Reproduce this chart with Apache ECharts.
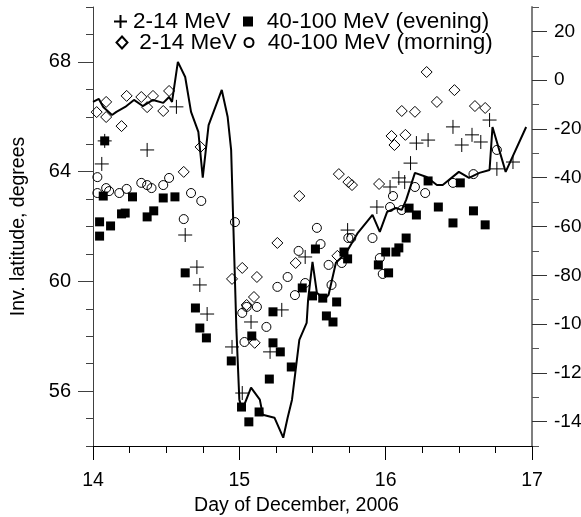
<!DOCTYPE html>
<html>
<head>
<meta charset="utf-8">
<script src="https://cdn.jsdelivr.net/npm/echarts@6/dist/echarts.min.js"></script>
<style>html,body{margin:0;padding:0;background:#fff}#c{width:581px;height:517px}</style>
</head>
<body>
<div id="c"></div>
<script>
// ---- data (day of December 2006, value) ----
var xTicks = [14, 15, 16, 17];
var latTickLabels = [56, 60, 64, 68];
var dstTickLabels = [-140, -120, -100, -80, -60, -40, -20, 0, 20];

// 2-14 MeV (evening) - crosses, invariant latitude
var cross214 = [[14.06,64.28],[14.08,65.12],[14.37,64.79],[14.57,66.36],[14.63,61.69],[14.71,60.52],
  [14.73,59.87],[14.78,58.81],[14.95,57.61],[15.02,55.93],[15.08,58.52],[15.21,57.43],[15.29,58.96],
  [15.45,60.89],[15.74,61.87],[15.94,62.71],[16.03,63.44],[16.09,63.77],[16.13,63.62],[16.17,64.31],
  [16.21,65.04],[16.29,65.15],[16.46,65.63],[16.52,64.97],[16.59,65.34],[16.65,65.08],[16.71,65.88],
  [16.76,64.10],[16.87,64.35]];

// 40-100 MeV (evening) - filled squares
var square40100 = [[14.045,62.17],[14.045,61.65],[14.07,63.11],[14.08,65.12],[14.12,62.02],[14.195,62.46],
  [14.22,62.49],[14.27,63.08],[14.37,62.35],[14.415,62.57],[14.48,63.04],[14.56,63.08],[14.63,60.31],
  [14.70,59.03],[14.73,58.30],[14.775,57.94],[14.945,57.10],[15.015,55.42],[15.065,54.88],[15.085,58.01],
  [15.135,55.24],[15.205,56.44],[15.23,58.89],[15.23,57.76],[15.28,57.43],[15.355,56.88],[15.43,59.76],
  [15.50,59.47],[15.52,61.18],[15.57,59.39],[15.595,58.74],[15.64,58.52],[15.665,59.25],[15.715,61.07],
  [15.74,60.82],[15.95,60.60],[16.00,61.07],[16.02,60.31],[16.07,61.07],[16.09,61.22],[16.14,61.58],
  [16.16,62.67],[16.21,62.42],[16.29,63.66],[16.36,62.71],[16.46,62.13],[16.51,63.59],[16.60,62.57],
  [16.68,62.06]];

// 2-14 MeV (morning) - open diamonds
var diamond214 = [[14.025,66.17],[14.09,65.99],[14.09,66.54],[14.195,65.66],[14.23,66.76],[14.33,66.72],
  [14.37,66.35],[14.41,66.76],[14.48,66.21],[14.52,66.94],[14.62,63.99],[14.735,64.90],[14.95,60.09],
  [15.02,60.49],[15.05,59.14],[15.10,59.43],[15.105,57.76],[15.12,60.16],[15.26,61.40],[15.385,60.67],
  [15.41,63.11],[15.67,60.93],[15.68,63.91],[15.745,63.62],[15.77,63.51],[15.955,63.55],[16.04,65.30],
  [16.06,64.97],[16.11,66.21],[16.135,65.34],[16.20,66.18],[16.28,67.63],[16.35,66.54],[16.47,66.97],
  [16.61,66.39],[16.68,66.32]];

// 40-100 MeV (morning) - open circles
var circle40100 = [[14.03,63.80],[14.03,63.22],[14.09,63.40],[14.11,63.29],[14.18,63.22],[14.23,63.37],
  [14.33,63.59],[14.37,63.51],[14.40,63.40],[14.48,63.51],[14.52,63.77],[14.62,62.27],[14.67,63.22],
  [14.74,62.93],[14.97,62.16],[15.02,58.85],[15.035,57.79],[15.05,59.07],[15.12,59.07],[15.185,58.34],
  [15.26,59.80],[15.33,60.16],[15.38,59.50],[15.405,61.11],[15.45,59.94],[15.53,61.95],[15.555,61.36],
  [15.61,60.60],[15.63,59.87],[15.70,60.67],[15.745,61.58],[15.765,61.58],[15.91,61.58],[15.96,60.85],
  [15.98,60.27],[16.03,62.71],[16.05,63.11],[16.11,62.60],[16.20,63.44],[16.27,63.22],[16.46,63.59],
  [16.60,63.91],[16.76,64.79]];

// Dst index (right axis) - solid line
var dstLine = [[14.00,-8.9],[14.04,-7.7],[14.07,-11],[14.13,-14.3],[14.16,-13],[14.22,-11],[14.28,-8.1],
  [14.34,-10.6],[14.41,-8.1],[14.48,-9.3],[14.52,-6.9],[14.54,-8.9],[14.58,7.5],[14.63,1.3],[14.67,-13],
  [14.72,-21.2],[14.75,-40],[14.79,-18.4],[14.88,-4],[14.92,-15],[14.944,-28.6],[14.98,-102.4],[15.00,-131],
  [15.02,-135.2],[15.08,-126.1],[15.14,-131],[15.16,-137.2],[15.24,-138.4],[15.30,-146.6],[15.33,-138.4],
  [15.36,-131],[15.41,-106.5],[15.46,-99.5],[15.47,-90],[15.50,-74.5],[15.53,-87.2],[15.58,-90],[15.61,-88],
  [15.66,-74.9],[15.73,-70.8],[15.81,-62.6],[15.91,-55.2],[15.96,-62.2],[16.01,-54],[16.07,-52.4],
  [16.11,-53.2],[16.14,-49.1],[16.20,-38],[16.28,-39.7],[16.35,-43],[16.39,-43],[16.50,-37.6],[16.57,-40.1],
  [16.64,-38],[16.71,-36.8],[16.73,-19.2],[16.82,-37.6],[16.96,-19.2]];

var names = ['2-14 MeV (evening)', '40-100 MeV (evening)', '2-14 MeV (morning)', '40-100 MeV (morning)'];
var legendTexts = {'2-14 MeV (evening)': '2-14 MeV', '40-100 MeV (evening)': '40-100 MeV (evening)',
                   '2-14 MeV (morning)': '2-14 MeV', '40-100 MeV (morning)': '40-100 MeV (morning)'};

var FONT = '"Liberation Sans", Arial, sans-serif';
var CROSS = 'path://M0,6 L12,6 M6,0 L6,12';

function legendAt(name, left, top, w, h, pad) {
  return {
    data: [name], left: left, top: top, padding: 0, itemWidth: w, itemHeight: h, itemGap: 0,
    selectedMode: false,
    formatter: function (n) { return legendTexts[n]; },
    textStyle: {fontSize: 22.5, fontFamily: FONT, color: '#000', padding: [0, 0, 0, pad]}
  };
}

var chart = echarts.init(document.getElementById('c'), null, {renderer: 'canvas'});
var baseLabel = {color: '#000', fontFamily: FONT};

chart.setOption({
  animation: false,
  backgroundColor: '#fff',
  grid: {left: 93, right: 49, top: 7, bottom: 71, containLabel: false, outerBoundsMode: 'none'},
  legend: [
    legendAt(names[0], 113, 10, 13, 13, 1),
    legendAt(names[1], 243, 10, 10, 10, 8.7),
    legendAt(names[2], 115.5, 31, 11, 12, 6.8),
    legendAt(names[3], 243.5, 31, 9, 9, 9.2)
  ],
  xAxis: {
    type: 'value', min: 14, max: 17, interval: 1,
    name: 'Day of December, 2006', nameLocation: 'middle', nameGap: 47,
    nameTextStyle: {fontSize: 19.5, fontFamily: FONT, color: '#000', padding: [0, 32, 0, 0]},
    axisLine: {show: true, onZero: false, lineStyle: {color: '#000', width: 1}},
    axisTick: {show: true, length: 14, lineStyle: {color: '#000'}},
    minorTick: {show: true, splitNumber: 4, length: 7, lineStyle: {color: '#000'}},
    axisLabel: Object.assign({fontSize: 19.5, margin: 25}, baseLabel),
    splitLine: {show: false}
  },
  yAxis: [
    { // left minor ticks
      type: 'value', position: 'left', min: 54, max: 70, interval: 1,
      axisLine: {show: true, onZero: false, lineStyle: {color: '#404040', width: 1}},
      axisTick: {show: true, length: 7, lineStyle: {color: '#404040'}},
      axisLabel: {show: false}, splitLine: {show: false}
    },
    { // left major ticks + labels
      type: 'value', position: 'left', min: 54, max: 70,
      name: 'Inv. latitude, degrees', nameLocation: 'middle', nameGap: 64,
      nameTextStyle: {fontSize: 19.5, fontFamily: FONT, color: '#000'},
      axisLine: {show: false},
      axisTick: {show: true, length: 15, customValues: latTickLabels, lineStyle: {color: '#404040'}},
      axisLabel: Object.assign({fontSize: 20, margin: 22, customValues: latTickLabels}, baseLabel),
      splitLine: {show: false}
    },
    { // right minor ticks
      type: 'value', position: 'right', min: -150, max: 30, interval: 10,
      axisLine: {show: true, onZero: false, lineStyle: {color: '#7f7f7f', width: 2}},
      axisTick: {show: true, length: 7, lineStyle: {color: '#555'}},
      axisLabel: {show: false}, splitLine: {show: false}
    },
    { // right major ticks + labels
      type: 'value', position: 'right', min: -150, max: 30,
      axisLine: {show: false},
      axisTick: {show: true, length: 15, customValues: dstTickLabels, lineStyle: {color: '#333'}},
      axisLabel: Object.assign({fontSize: 19, margin: 22, customValues: dstTickLabels}, baseLabel),
      splitLine: {show: false}
    }
  ],
  series: [
    {name: names[0], type: 'scatter', yAxisIndex: 0, data: cross214, symbol: CROSS, symbolSize: 14,
     itemStyle: {color: 'rgba(0,0,0,0)', borderColor: '#000', borderWidth: 1, opacity: 1}},
    {name: names[1], type: 'scatter', yAxisIndex: 0, data: square40100, symbol: 'rect', symbolSize: 9,
     itemStyle: {color: '#000', borderWidth: 0, opacity: 1}},
    {name: names[2], type: 'scatter', yAxisIndex: 0, data: diamond214, symbol: 'diamond', symbolSize: 11,
     itemStyle: {color: 'rgba(0,0,0,0)', borderColor: '#000', borderWidth: 1, opacity: 1}},
    {name: names[3], type: 'scatter', yAxisIndex: 0, data: circle40100, symbol: 'circle', symbolSize: 9,
     itemStyle: {color: 'rgba(0,0,0,0)', borderColor: '#000', borderWidth: 1, opacity: 1}},
    {name: 'Dst', type: 'line', yAxisIndex: 2, data: dstLine, showSymbol: false, smooth: false,
     lineStyle: {color: '#000', width: 2}, z: 3}
  ]
});
</script>
</body>
</html>
